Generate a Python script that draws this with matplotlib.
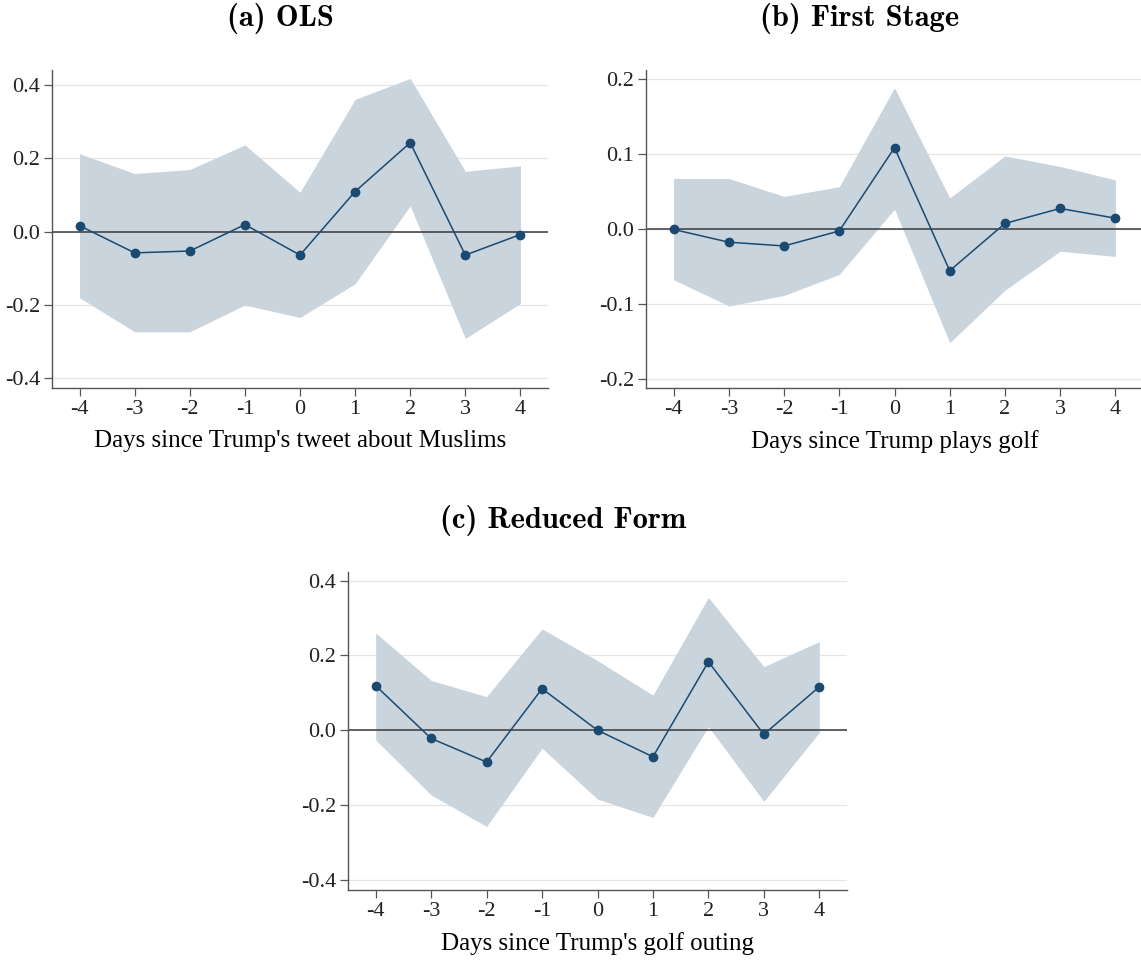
import numpy as np
import matplotlib
matplotlib.use("Agg")
import matplotlib.pyplot as plt

days = [-4, -3, -2, -1, 0, 1, 2, 3, 4]

# (a) OLS
ols_b = [0.016, -0.058, -0.053, 0.019, -0.064, 0.109, 0.242, -0.064, -0.008]
ols_hi = [0.212, 0.158, 0.169, 0.236, 0.107, 0.360, 0.417, 0.164, 0.179]
ols_lo = [-0.180, -0.273, -0.273, -0.200, -0.234, -0.142, 0.070, -0.291, -0.196]

# (b) first stage
fs_b = [-0.001, -0.018, -0.023, -0.003, 0.108, -0.056, 0.007, 0.027, 0.014]
fs_hi = [0.067, 0.067, 0.043, 0.056, 0.188, 0.041, 0.097, 0.083, 0.065]
fs_lo = [-0.068, -0.103, -0.089, -0.061, 0.026, -0.152, -0.082, -0.030, -0.037]

# (c) reduced form
rf_b = [0.119, -0.022, -0.085, 0.111, 0.000, -0.071, 0.183, -0.011, 0.116]
rf_hi = [0.260, 0.133, 0.090, 0.271, 0.186, 0.094, 0.355, 0.170, 0.237]
rf_lo = [-0.026, -0.173, -0.257, -0.048, -0.184, -0.233, 0.010, -0.190, -0.006]

NAVY = "#1a4a72"
FILL = "#c9d4dd"
SERIF = ["Liberation Serif", "DejaVu Serif"]

fig = plt.figure(figsize=(11.41, 9.65), dpi=100)
W, H = 1141, 965


def add_ax(l, r, t, b):
    return fig.add_axes([l / W, 1 - b / H, (r - l) / W, (b - t) / H])


def panel(ax, b, lo, hi, yticks, ylim, xlabel):
    ax.fill_between(days, lo, hi, color=FILL, lw=0, zorder=1)
    for yv in yticks:
        ax.axhline(yv, color="#e6e6e6", lw=0.9, zorder=0)
    ax.axhline(0, color="#3a3a3a", lw=1.1, zorder=2)
    ax.plot(days, b, "-o", color=NAVY, lw=1.1, ms=6, zorder=3)
    ax.set_xlim(-4.5, 4.5)
    ax.set_ylim(*ylim)
    ax.set_xticks(days)
    ax.set_xticklabels([str(d) for d in days], family=SERIF, fontsize=16)
    ax.set_yticks(yticks)
    ax.set_yticklabels([f"{v:.1f}".replace("-0.0", "0.0") for v in yticks],
                       family=SERIF, fontsize=16)
    ax.set_xlabel(xlabel, family=SERIF, fontsize=18, labelpad=8)
    for s in ("top", "right"):
        ax.spines[s].set_visible(False)
    for s in ("left", "bottom"):
        ax.spines[s].set_color("#555555")
        ax.spines[s].set_linewidth(1.0)
    ax.tick_params(direction="out", length=6, width=0.9, color="#555555",
                   labelcolor="#222222", pad=2.5)


ax_a = add_ax(52, 548, 70, 388)
panel(ax_a, ols_b, ols_lo, ols_hi, [-0.4, -0.2, 0.0, 0.2, 0.4], (-0.426, 0.44),
      "Days since Trump's tweet about Muslims")

ax_b = add_ax(646, 1143, 70, 388)
panel(ax_b, fs_b, fs_lo, fs_hi, [-0.2, -0.1, 0.0, 0.1, 0.2], (-0.2124, 0.2116),
      "Days since Trump plays golf")

ax_c = add_ax(348, 847, 572, 890)
panel(ax_c, rf_b, rf_lo, rf_hi, [-0.4, -0.2, 0.0, 0.2, 0.4], (-0.427, 0.423),
      "Days since Trump's golf outing")

tkw = dict(family="cmb10", fontsize=22, ha="center", va="center")
fig.text(280 / W, 1 - 19 / H, "(a) OLS", **tkw)
fig.text(860 / W, 1 - 19 / H, "(b) First Stage", **tkw)
fig.text(563 / W, 1 - 521 / H, "(c) Reduced Form", **tkw)

fig.savefig("out.png", dpi=100, facecolor="white")
